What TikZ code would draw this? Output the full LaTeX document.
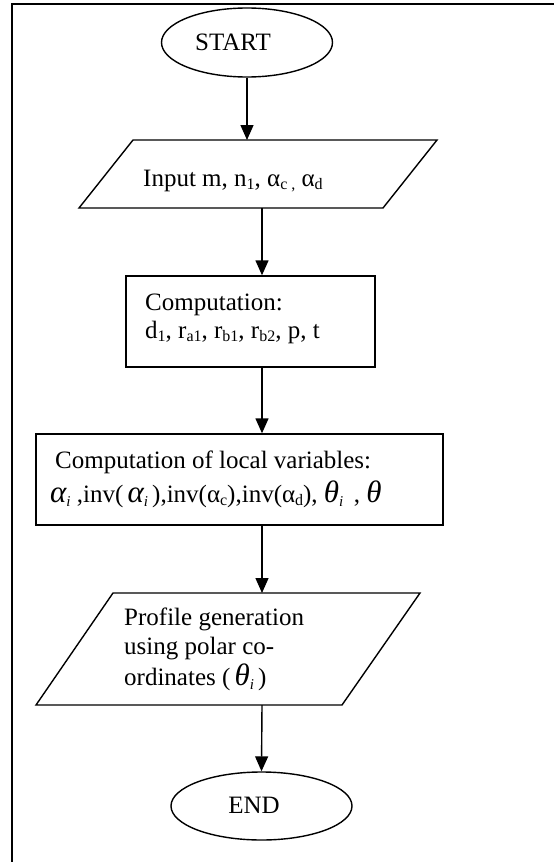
\documentclass[tikz,border=0pt]{standalone}
\usepackage{fontspec}
\setmainfont{Liberation Serif}
\usetikzlibrary{shapes.geometric,arrows.meta}
\newcommand{\mysub}[1]{\raisebox{-0.28ex}{\fontsize{16}{16}\selectfont #1}}
\newcommand{\bigit}[1]{{\fontsize{31}{31}\selectfont\itshape #1}}
\newcommand{\itsub}[1]{\raisebox{-0.4ex}{\fontsize{15}{15}\selectfont\itshape #1}}
\begin{document}
\begin{tikzpicture}[x=1pt,y=-1pt,
  line/.style={line width=1.4pt},
  arr/.style={line width=1.4pt,-{Triangle[width=13pt,length=15pt]}},
  txt/.style={inner sep=0pt,anchor=base west,font=\fontsize{25}{29}\selectfont},
  oval/.style={ellipse,draw,line width=1.4pt,inner sep=0pt}]
\useasboundingbox (0,0) rectangle (554,862);
% outer frame (only left and top edges visible)
\draw[line] (12,862) -- (12,4) -- (554,4);
% START
\node[oval,minimum width=171pt,minimum height=69pt] (start) at (247,42.5) {};
\node[txt,anchor=base] (starttxt) at (233,50) {START};
% input parallelogram
\coordinate (inTL) at (133,140); \coordinate (inTR) at (437,140);
\coordinate (inBR) at (383,208); \coordinate (inBL) at (79,208);
\draw[line] (inTL) -- (inTR) -- (inBR) -- (inBL) -- cycle;
\coordinate (inTop) at (247,140); \coordinate (inBot) at (262,208);
\node[txt] (intxt) at (143,186) {Input m, n\mysub{1}, α\mysub{c ,} α\mysub{d}};
% computation box
\node[draw,line width=1.4pt,minimum width=249pt,minimum height=91pt,inner sep=0pt] (comp) at (250.5,321.5) {};
\node[txt] (comptxt1) at (145,310) {Computation:};
\node[txt] (comptxt2) at (145,338) {d\mysub{1}, r\mysub{a1}, r\mysub{b1}, r\mysub{b2}, p, t};
% local variables box
\node[draw,line width=1.4pt,minimum width=407pt,minimum height=91pt,inner sep=0pt] (loc) at (239.5,479.5) {};
\node[txt] (loctxt1) at (55,468) {Computation of local variables:};
\node[txt] (loctxt2) at (50,502) {\bigit{α}\itsub{i} ,inv(\,\bigit{α}\itsub{i}\,),inv(α\mysub{c}),inv(α\mysub{d}), \bigit{θ}\itsub{i}\, , \bigit{θ}};
% profile parallelogram
\coordinate (prTL) at (113,593); \coordinate (prTR) at (420,593);
\coordinate (prBR) at (342,705); \coordinate (prBL) at (36,705);
\draw[line] (prTL) -- (prTR) -- (prBR) -- (prBL) -- cycle;
\coordinate (prTop) at (262,593); \coordinate (prBot) at (262,705);
\node[txt] (prtxt1) at (124,625) {Profile generation};
\node[txt] (prtxt2) at (124,654) {using polar co-};
\node[txt] (prtxt3) at (124,685) {ordinates (\,\bigit{θ}\itsub{i}\,)};
% END
\node[oval,minimum width=181pt,minimum height=68pt] (end) at (261.5,806) {};
\node[txt,anchor=base] (endtxt) at (254,813) {END};
% arrows
\draw[arr] (start.south) -- (inTop);
\draw[arr] (inBot) -- (comp.north -| inBot);
\draw[arr] (comp.south -| inBot) -- (loc.north -| inBot);
\draw[arr] (loc.south -| inBot) -- (prTop);
\draw[arr] (prBot) -- (end.north);
\end{tikzpicture}
\end{document}
